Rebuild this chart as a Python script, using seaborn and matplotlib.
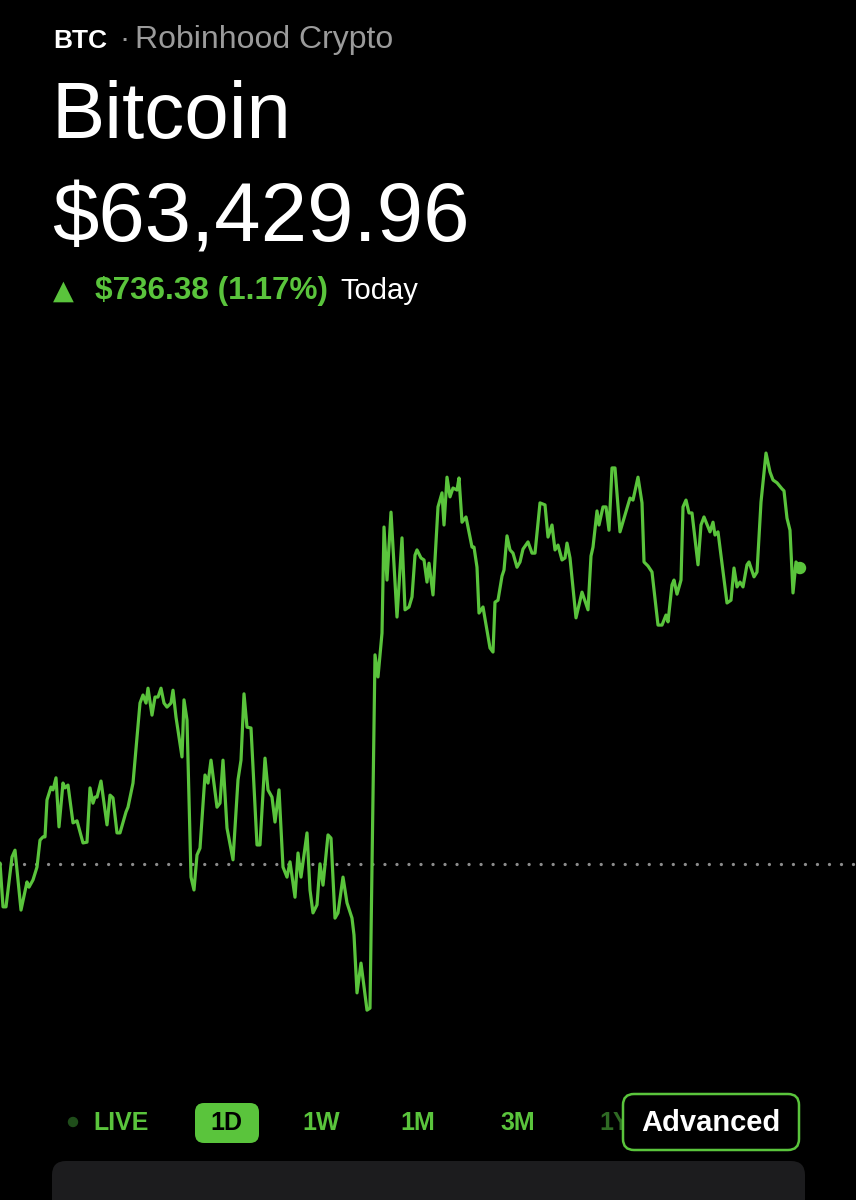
import matplotlib
matplotlib.use("Agg")
import matplotlib.pyplot as plt
from matplotlib.patches import FancyBboxPatch, Circle
import seaborn as sns
import pandas as pd

# ---------------- data ----------------
symbol = "BTC"
source = "Robinhood Crypto"
name = "Bitcoin"
last_price = 63429.96
change_abs = 736.38
change_pct = 1.17
prev_close = last_price - change_abs
ranges = ["LIVE", "1D", "1W", "1M", "3M", "1Y"]

t = [0, 3, 6, 12, 15, 21, 27, 29, 33, 37, 40, 43, 45, 47, 51, 53, 56, 59, 63, 65,
     68, 73, 77, 83, 87, 90, 93, 95, 97, 101, 107, 110, 113, 117, 120, 126, 128, 133, 137, 140,
     143, 146, 148, 152, 155, 158, 161, 164, 167, 171, 173, 176, 182, 184, 187, 191, 194, 197, 200, 205,
     208, 211, 217, 220, 223, 227, 233, 238, 241, 244, 247, 251, 257, 260, 265, 268, 272, 275, 279, 283,
     287, 290, 295, 298, 301, 307, 310, 313, 317, 320, 323, 328, 331, 335, 338, 343, 347, 352, 354, 357,
     361, 367, 370, 375, 378, 382, 384, 387, 391, 397, 402, 405, 409, 412, 415, 417, 421, 424, 427, 429,
     433, 438, 442, 444, 447, 450, 453, 457, 459, 462, 466, 472, 474, 477, 479, 483, 490, 493, 495, 498,
     502, 504, 507, 510, 513, 517, 520, 523, 528, 532, 535, 540, 545, 548, 552, 555, 558, 562, 565, 567,
     570, 576, 582, 588, 591, 593, 597, 599, 603, 606, 609, 612, 615, 620, 625, 630, 633, 638, 642, 644,
     648, 652, 658, 662, 666, 668, 672, 674, 677, 681, 683, 686, 689, 692, 698, 701, 704, 710, 713, 715,
     718, 727, 731, 734, 737, 740, 743, 747, 749, 754, 757, 761, 766, 770, 773, 777, 782, 784, 787, 790,
     793, 796, 800]

price = [62696, 62587, 62587, 62711, 62728, 62579, 62649, 62636, 62654, 62686,
         62753, 62761, 62761, 62853, 62885, 62878, 62908, 62786, 62895, 62883,
         62890, 62796, 62801, 62746, 62748, 62883, 62845, 62860, 62860, 62900,
         62791, 62865, 62858, 62771, 62771, 62823, 62835, 62895, 63010, 63094,
         63114, 63094, 63131, 63064, 63109, 63109, 63131, 63094, 63084, 63094,
         63126, 63059, 62960, 63102, 63052, 62661, 62629, 62716, 62733, 62915,
         62895, 62952, 62835, 62845, 62952, 62783, 62704, 62903, 62952, 63117,
         63034, 63032, 62741, 62741, 62957, 62878, 62860, 62798, 62878, 62686,
         62661, 62699, 62611, 62721, 62661, 62771, 62629, 62572, 62592, 62694,
         62641, 62766, 62758, 62559, 62572, 62661, 62597, 62559, 62517, 62373,
         62447, 62330, 62335, 63214, 63159, 63268, 63532, 63400, 63569, 63308,
         63505, 63326, 63333, 63358, 63462, 63475, 63455, 63450, 63395, 63442,
         63363, 63582, 63617, 63537, 63656, 63607, 63629, 63624, 63654, 63544,
         63557, 63482, 63482, 63432, 63318, 63333, 63231, 63221, 63345, 63350,
         63410, 63425, 63510, 63475, 63467, 63432, 63445, 63477, 63495, 63467,
         63467, 63592, 63587, 63507, 63537, 63475, 63487, 63450, 63455, 63492,
         63455, 63306, 63370, 63326, 63460, 63482, 63572, 63537, 63582, 63582,
         63524, 63679, 63679, 63520, 63562, 63604, 63599, 63656, 63592, 63445,
         63435, 63420, 63288, 63288, 63313, 63296, 63388, 63400, 63365, 63400,
         63582, 63599, 63567, 63567, 63438, 63537, 63557, 63520, 63544, 63512,
         63520, 63343, 63350, 63430, 63383, 63395, 63383, 63438, 63445, 63408,
         63420, 63594, 63716, 63669, 63649, 63642, 63627, 63622, 63554, 63524,
         63368, 63445, 63429.96]

df = pd.DataFrame({"t": t, "price": price})

# ---------------- style ----------------
W, H = 856, 1200
GREEN = "#5ac43c"
BG = "#000000"
sns.set_theme(style="dark")
plt.rcParams["font.family"] = ["Liberation Sans", "DejaVu Sans"]
plt.rcParams["lines.scale_dashes"] = False

fig = plt.figure(figsize=(W / 100, H / 100), dpi=100, facecolor=BG)


def fx(px):
    return px / W


def fy(py):
    return 1 - py / H


# chart axes: pixel rows 400..1060
ax = fig.add_axes([0, fy(1060), 1, (1060 - 400) / H])
ax.set_facecolor(BG)
ax.axhline(prev_close, color="#8c8c8c", linewidth=2.4, dashes=(0.01, 8.64),
           dash_capstyle="round", zorder=2)
sns.lineplot(data=df, x="t", y="price", ax=ax, color=GREEN, linewidth=2.3,
             estimator=None, sort=False, zorder=3)
ax.scatter([t[-1]], [price[-1]], s=80, color=GREEN, zorder=4, edgecolors="none")
ax.set_xlim(0, 856)
ax.set_ylim(62206, 63848)
ax.set_axis_off()

# ---------------- header ----------------
fig.text(fx(53), fy(48), symbol, color="white", fontsize=19, fontweight="bold", va="baseline")
fig.text(fx(119), fy(48), "·", color="#9b9b9b", fontsize=22, va="baseline")
fig.text(fx(135), fy(48), source, color="#9b9b9b", fontsize=23, va="baseline")
fig.text(fx(52), fy(138), name, color="white", fontsize=57.5, va="baseline")
fig.text(fx(52), fy(241), f"${last_price:,.2f}", color="white", fontsize=60, va="baseline")
fig.text(fx(53), fy(299), "▲", color=GREEN, fontsize=19.5, va="baseline",
         family=["DejaVu Sans"])
fig.text(fx(95), fy(299), f"${change_abs:,.2f} ({change_pct:.2f}%)", color=GREEN,
         fontsize=22.7, fontweight="bold", va="baseline")
fig.text(fx(340), fy(299), "Today", color="white", fontsize=21, va="baseline")

# ---------------- range selector ----------------
bx = fig.add_axes([0, 0, 1, 1], facecolor="none")
bx.set_xlim(0, W)
bx.set_ylim(H, 0)
bx.set_axis_off()

cy = 1122
bx.add_patch(Circle((73, cy), 4.5, color="#1f4d1a"))
xpos = [121, 226, 321, 418, 518, 615]
for lab, x in zip(ranges, xpos):
    if lab == "1D":
        bx.add_patch(FancyBboxPatch((195, 1103), 64, 40,
                                    boxstyle="round,pad=0,rounding_size=9",
                                    facecolor=GREEN, edgecolor="none"))
        bx.text(x, cy + 1, lab, color="black", fontsize=18, fontweight="bold",
                ha="center", va="center")
    elif lab == "1Y":
        bx.text(x, cy + 1, lab, color="#2f6a24", fontsize=18, fontweight="bold",
                ha="center", va="center", zorder=1)
    else:
        bx.text(x, cy + 1, lab, color=GREEN, fontsize=18, fontweight="bold",
                ha="center", va="center")

bx.add_patch(FancyBboxPatch((623, 1094), 176, 56,
                            boxstyle="round,pad=0,rounding_size=11",
                            facecolor=BG, edgecolor=GREEN, linewidth=1.8, zorder=3))
bx.text(711, cy + 1, "Advanced", color="white", fontsize=21, fontweight="bold",
        ha="center", va="center", zorder=4)

# bottom sheet
bx.add_patch(FancyBboxPatch((52, 1161), 753, 80,
                            boxstyle="round,pad=0,rounding_size=14",
                            facecolor="#1c1c1e", edgecolor="none"))

fig.savefig("out.png", dpi=100, facecolor=BG)
